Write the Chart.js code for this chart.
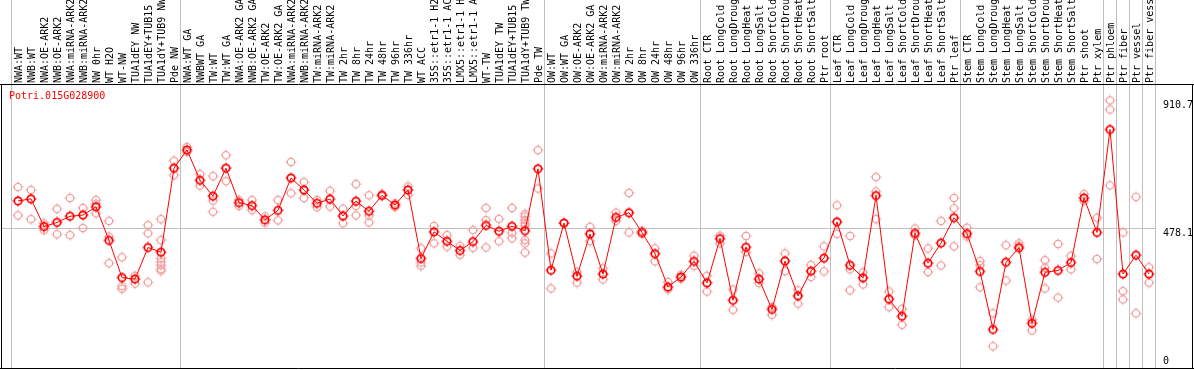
<!DOCTYPE html>
<html>
<head>
<meta charset="utf-8">
<script src="https://cdn.jsdelivr.net/npm/chart.js@4.4.3/dist/chart.umd.min.js"></script>
<style>
  html, body { margin: 0; padding: 0; background: #fff; }
</style>
</head>
<body>
<canvas id="expr-chart" width="1194" height="370"></canvas>
<script>
const geneName = "Potri.015G028900";

const sampleLabels = [
  "NWA:WT", "NWB:WT", "NWA:OE-ARK2", "NWB:OE-ARK2", "NWA:miRNA-ARK2", "NWB:miRNA-ARK2",
  "NW 0hr", "WT H2O", "WT-NW", "TUA1dEY NW", "TUA1dEY+TUB15", "TUA1dY+TUB9 NW", "Pde NW",
  "NWA:WT GA", "NWBWT GA", "TW:WT", "TW:WT GA", "NWA:OE-ARK2 GA", "NWB:OE-ARK2 GA",
  "TW:OE-ARK2", "TW:OE-ARK2 GA", "NWA:miRNA-ARK2 GA", "NWB:miRNA-ARK2 GA", "TW:miRNA-ARK2",
  "TW:miRNA-ARK2 GA", "TW 2hr", "TW 8hr", "TW 24hr", "TW 48hr", "TW 96hr", "TW 336hr",
  "WT ACC", "35S::etr1-1 H2O", "35S::etr1-1 ACC", "LMX5::etr1-1 H2O", "LMX5::etr1-1 ACC",
  "WT-TW", "TUA1dEY TW", "TUA1dEY+TUB15", "TUA1dY+TUB9 TW", "Pde TW",
  "OW:WT", "OW:WT GA", "OW:OE-ARK2", "OW:OE-ARK2 GA", "OW:miRNA-ARK2", "OW:miRNA-ARK2 GA",
  "OW 2hr", "OW 8hr", "OW 24hr", "OW 48hr", "OW 96hr", "OW 336hr",
  "Root CTR", "Root LongCold", "Root LongDrought", "Root LongHeat", "Root LongSalt",
  "Root ShortCold", "Root ShortDrought", "Root ShortHeat", "Root ShortSalt", "Ptr root",
  "Leaf CTR", "Leaf LongCold", "Leaf LongDrought", "Leaf LongHeat", "Leaf LongSalt",
  "Leaf ShortCold", "Leaf ShortDrought", "Leaf ShortHeat", "Leaf ShortSalt", "Ptr leaf",
  "Stem CTR", "Stem LongCold", "Stem LongDrought", "Stem LongHeat", "Stem LongSalt",
  "Stem ShortCold", "Stem ShortDrought", "Stem ShortHeat", "Stem ShortSalt", "Ptr shoot",
  "Ptr xylem", "Ptr phloem", "Ptr fiber", "Ptr vessel", "Ptr fiber vessel",
];

const sampleMeans = [
  570, 577, 483, 497, 518, 522, 550, 436, 310, 305, 412, 396, 681,
  743, 640, 586, 681, 564, 554, 506, 538, 648, 607, 562, 576, 519, 569, 535, 589, 556, 607,
  375, 465, 433, 402, 432, 487, 467, 484, 469, 679,
  335, 495, 315, 458, 322, 514, 530, 463, 391, 278, 312, 365,
  292, 442, 233, 413, 305, 202, 366, 248, 332, 376,
  499, 352, 309, 588, 237, 179, 460, 359, 427, 513,
  459, 331, 134, 362, 411, 155, 328, 334, 361, 580, 463,
  812, 322, 386, 322,
];

const sampleReplicates = [
  [617, 521], [607, 508], [494, 483, 471], [543, 457], [580, 454], [546, 478],
  [573, 560, 528], [502, 449, 359], [379, 281, 272], [316, 290], [488, 460, 294],
  [508, 437, 375, 363, 352, 339, 333], [706, 657],
  [753, 736], [661, 622], [654, 571, 533], [725, 637], [573, 553], [573, 539],
  [517, 496], [573, 504], [702, 596], [634, 580], [573, 549], [604, 551], [544, 494],
  [627, 553, 521], [589, 521, 497], [592, 587], [562, 549], [619, 590],
  [409, 361, 350], [485, 426], [454, 415], [418, 387], [471, 411], [546, 505, 412],
  [509, 433], [546, 462, 443], [525, 517, 505, 494, 486, 437, 426, 395], [742, 612],
  [392, 273], [495], [329, 293], [482, 434], [341, 304], [530, 502], [597, 463],
  [468, 458], [409, 365], [295, 270], [320, 306], [384, 350],
  [316, 263], [452, 426], [269, 201], [451, 397], [324, 292], [210, 184], [392, 332],
  [267, 222], [353, 312], [416, 331],
  [555, 458], [451, 338, 267], [328, 287], [651, 602, 508], [263, 210], [204, 150],
  [476, 453], [409, 329], [502, 351], [580, 545, 416],
  [479, 449], [366, 352, 277], [189, 77], [420, 300], [426, 418], [167, 131],
  [369, 343, 273], [424, 242], [384, 338], [593, 570], [513, 373],
  [910.7, 880, 623], [463, 264, 236], [584, 189], [345, 293],
];

// sample group boundaries (between category indexes)
const groupBreaks = [-0.5, 12.5, 40.5, 52.5, 62.5, 72.5, 83.5, 84.5, 85.5, 86.5, 87.5];
const yTickValues = [0, 478.1, 910.7];
const yReference = 478.1;

const MONO = "'DejaVu Sans Mono', 'Liberation Mono', monospace";

function makeMarker(color, width) {
  const c = document.createElement("canvas");
  c.width = 12;
  c.height = 12;
  const g = c.getContext("2d");
  g.strokeStyle = color;
  g.lineWidth = width;
  g.beginPath();
  g.arc(6, 6, 3.7, 0, Math.PI * 2);
  g.stroke();
  g.lineWidth = 1;
  g.beginPath();
  g.moveTo(6, 0.5); g.lineTo(6, 2.5);
  g.moveTo(6, 9.5); g.lineTo(6, 11.5);
  g.moveTo(0.5, 6); g.lineTo(2.5, 6);
  g.moveTo(9.5, 6); g.lineTo(11.5, 6);
  g.stroke();
  return c;
}

const meanPoints = sampleMeans.map((v, i) => ({ x: i, y: v }));
const replicatePoints = sampleReplicates.flatMap((reps, i) => reps.map((v) => ({ x: i, y: v })));

const framePlugin = {
  id: "frame",
  beforeDatasetsDraw(chart) {
    const { ctx, chartArea: area, scales } = chart;
    const { x, y } = scales;
    ctx.save();
    ctx.lineWidth = 1;
    ctx.strokeStyle = "#c0c0c0";
    for (const b of groupBreaks) {
      const px = Math.round(x.getPixelForValue(b)) - 0.5;
      ctx.beginPath();
      ctx.moveTo(px, 0);
      ctx.lineTo(px, area.bottom);
      ctx.stroke();
    }
    const ry = Math.round(y.getPixelForValue(yReference)) + 0.5;
    ctx.beginPath();
    ctx.moveTo(area.left, ry);
    ctx.lineTo(x.getPixelForValue(87.5), ry);
    ctx.stroke();

    ctx.strokeStyle = "#000";
    ctx.beginPath();
    ctx.moveTo(0, area.top - 0.5);
    ctx.lineTo(chart.width, area.top - 0.5);
    ctx.moveTo(0, area.bottom - 0.5);
    ctx.lineTo(chart.width, area.bottom - 0.5);
    ctx.moveTo(area.left + 0.5, area.top - 0.5);
    ctx.lineTo(area.left + 0.5, area.bottom - 0.5);
    ctx.moveTo(chart.width - 1.5, area.top - 0.5);
    ctx.lineTo(chart.width - 1.5, area.bottom - 0.5);
    ctx.stroke();
    ctx.restore();
  },
  afterDraw(chart) {
    const { ctx, chartArea: area, scales } = chart;
    const { x, y } = scales;
    ctx.save();
    ctx.font = `10px ${MONO}`;

    // rotated sample names above the plot
    ctx.fillStyle = "#000";
    ctx.textAlign = "left";
    ctx.textBaseline = "middle";
    sampleLabels.forEach((label, i) => {
      ctx.save();
      ctx.translate(x.getPixelForValue(i) + 1.5, area.top - 2);
      ctx.rotate(-Math.PI / 2);
      ctx.fillText(label, 0, 0);
      ctx.restore();
    });

    // value labels on the right
    ctx.textBaseline = "middle";
    yTickValues.forEach((v) => {
      const py = y.getPixelForValue(v) + (v === 0 ? -8 : 5);
      ctx.fillText(String(v), 1163, py);
    });

    ctx.fillStyle = "#ff0000";
    ctx.textBaseline = "top";
    ctx.fillText(geneName, 9, area.top + 6);
    ctx.restore();
  },
};

new Chart(document.getElementById("expr-chart"), {
  type: "scatter",
  data: {
    datasets: [
      {
        label: "replicates",
        data: replicatePoints,
        pointStyle: makeMarker("#f0a0a0", 1.3),
        pointRadius: 5,
        showLine: false,
        order: 2,
      },
      {
        label: "mean",
        data: meanPoints,
        showLine: true,
        borderColor: "#ff0000",
        borderWidth: 1,
        tension: 0,
        pointStyle: makeMarker("#ff0000", 1.7),
        pointRadius: 5,
        order: 1,
      },
    ],
  },
  options: {
    responsive: false,
    animation: false,
    layout: { autoPadding: false, padding: { left: 1, top: 85, right: 38, bottom: 1 } },
    scales: {
      x: { type: "linear", display: false, min: -17 / 13, max: -17 / 13 + 1155 / 13 },
      y: { type: "linear", display: false, min: 0, max: 963 },
    },
    plugins: {
      legend: { display: false },
      tooltip: { enabled: false },
    },
  },
  plugins: [framePlugin],
});
</script>
</body>
</html>
